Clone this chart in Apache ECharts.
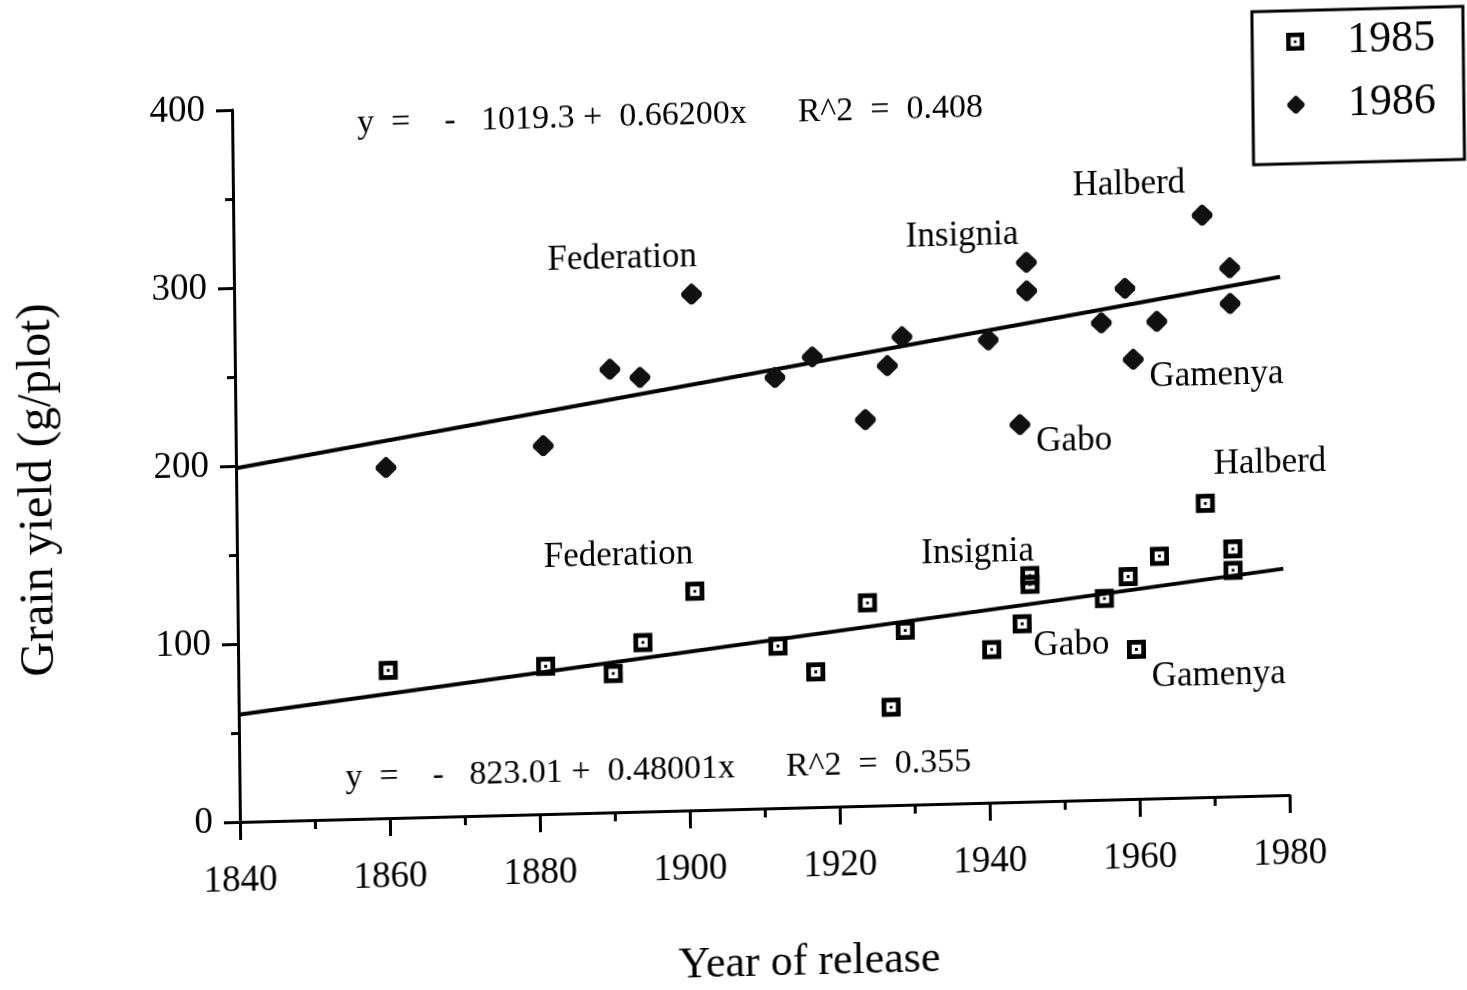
<!DOCTYPE html>
<html>
<head>
<meta charset="utf-8">
<title>Grain yield by year of release</title>
<script src="https://cdn.jsdelivr.net/npm/echarts@6.0.0/dist/echarts.min.js"></script>
<style>
  html, body { margin: 0; padding: 0; background: #fff; width: 1467px; height: 990px; overflow: hidden; }
  /* the printed figure sits slightly askew on the page */
  #chart {
    position: absolute; left: 0; top: 0; width: 1500px; height: 1000px;
    transform-origin: 240px 822px;
    transform: matrix(1, -0.0257, 0.0111, 1, 0, 0);
  }
</style>
</head>
<body>
<div id="chart"></div>
<script>
// Cultivar release years (shared by both seasons)
const releaseYears = [1860, 1881, 1890, 1894, 1901, 1912, 1917, 1924, 1927, 1929, 1940.5,
                      1944.6, 1945.7, 1945.7, 1955.6, 1958.8, 1959.8, 1963, 1969.2, 1972.8, 1972.8];
// Grain yield (g/plot)
const yield1985 = [83, 83, 78, 95, 123, 91, 76, 114, 55, 98, 86,
                   100, 127, 122, 113, 125, 84, 136, 165, 139, 127];
const yield1986 = [197, 207, 249, 244, 290, 242, 253, 217, 247, 263, 260,
                   212, 303, 287, 268, 287, 247, 268, 327, 297, 277];
// Named cultivars
const cultivars = ['', '', '', '', 'Federation', '', '', '', '', '', '',
                   'Gabo', 'Insignia', '', '', '', 'Gamenya', '', 'Halberd', '', ''];
// Linear fits: [intercept, slope, R^2]
const fit1985 = [-823.01, 0.48001, 0.355];
const fit1986 = [-1019.3, 0.66200, 0.408];
const fitSpan = [1840, 1979.5];
// Axis ranges: [min, max, step]
const xTicks = [1840, 1980, 20];
const yTicks = [0, 400, 100];
const seasons = ['1985', '1986'];

const FONT = '"Liberation Serif", "Times New Roman", serif';

// hollow square with a centre dot
const squareIcon = 'path://M0,0 L20,0 L20,20 L0,20 Z M5,5 L5,15 L15,15 L15,5 Z M8.5,8.5 L11.5,8.5 L11.5,11.5 L8.5,11.5 Z';
// solid diamond with softened corners
const diamondIcon = 'path://M10,0 Q11,0 12,1 L19,8 Q20,10 19,12 L12,19 Q10,20 8,19 L1,12 Q0,10 1,8 L8,1 Q9,0 10,0 Z';

// where each cultivar name sits relative to its point
const labelOffsets = {
  '1985': { Federation: [-76, -37], Insignia: [-52, -24], Halberd: [65, -38], Gabo: [49, 23], Gamenya: [82, 28] },
  '1986': { Federation: [-69, -37], Insignia: [-64, -28], Halberd: [-73, -32], Gamenya: [83, 18], Gabo: [54, 18] }
};

function pointData(values, season) {
  return releaseYears.map((yr, i) => {
    const item = { value: [yr, values[i]] };
    const name = cultivars[i];
    if (name) {
      item.label = { show: true, formatter: name, offset: labelOffsets[season][name] };
    }
    return item;
  });
}

function fitLine(fit) {
  return fitSpan.map(x => [x, fit[0] + fit[1] * x]);
}

function equation(fit) {
  const sign = fit[0] < 0 ? '-' : '+';
  return 'y  =    ' + sign + '   ' + String(Math.abs(fit[0])) + ' +  ' +
         fit[1].toFixed(5) + 'x      R^2  =  ' + fit[2].toFixed(3);
}

const pointLabel = {
  show: false, position: 'inside', color: '#000',
  fontFamily: FONT, fontSize: 35
};

const chart = echarts.init(document.getElementById('chart'), null, { renderer: 'canvas' });

chart.setOption({
  animation: false,
  backgroundColor: '#fff',
  grid: { left: 240, top: 110, width: 1050, height: 712, containLabel: false, outerBoundsMode: 'none' },
  legend: {
    data: seasons,
    orient: 'vertical',
    left: 1261, top: 38,
    padding: [3, 28, 31, 34],
    itemGap: 7,
    itemWidth: 18, itemHeight: 18,
    borderColor: '#000', borderWidth: 3,
    backgroundColor: '#fff',
    selectedMode: false,
    textStyle: { fontFamily: FONT, fontSize: 44, color: '#000', lineHeight: 44, padding: [12, 0, 0, 38] }
  },
  xAxis: {
    type: 'value',
    min: xTicks[0], max: xTicks[1], interval: xTicks[2],
    name: 'Year of release',
    nameLocation: 'middle',
    nameGap: 133,
    nameTextStyle: { fontFamily: FONT, fontSize: 44, color: '#000', padding: [0, 0, 0, 86] },
    axisLine: { show: true, lineStyle: { color: '#000', width: 3 } },
    axisTick: { show: true, inside: false, length: 18, lineStyle: { color: '#000', width: 3 } },
    minorTick: { show: true, splitNumber: 2, length: 9, lineStyle: { color: '#000', width: 3 } },
    splitLine: { show: false },
    minorSplitLine: { show: false },
    axisLabel: {
      margin: 41, fontFamily: FONT, fontSize: 37, color: '#000',
      showMinLabel: true, showMaxLabel: true,
      formatter: v => String(v)
    }
  },
  yAxis: {
    type: 'value',
    min: yTicks[0], max: yTicks[1], interval: yTicks[2],
    name: 'Grain yield (g/plot)',
    nameLocation: 'middle',
    nameGap: 174,
    nameTextStyle: { fontFamily: FONT, fontSize: 48, color: '#000', padding: [0, 38, 0, 0] },
    axisLine: { show: true, lineStyle: { color: '#000', width: 3 } },
    axisTick: { show: true, inside: false, length: 16, lineStyle: { color: '#000', width: 3 } },
    minorTick: { show: true, splitNumber: 2, length: 8, lineStyle: { color: '#000', width: 3 } },
    splitLine: { show: false },
    minorSplitLine: { show: false },
    axisLabel: { margin: 27, fontFamily: FONT, fontSize: 37, color: '#000' }
  },
  series: [
    {
      name: 'fit 1986', type: 'line', data: fitLine(fit1986),
      symbol: 'none', silent: true,
      lineStyle: { color: '#000', width: 4 }, z: 1
    },
    {
      name: 'fit 1985', type: 'line', data: fitLine(fit1985),
      symbol: 'none', silent: true,
      lineStyle: { color: '#000', width: 4 }, z: 1
    },
    {
      name: seasons[0], type: 'scatter',
      symbol: squareIcon, symbolSize: 19,
      itemStyle: { color: '#000', opacity: 1 },
      label: pointLabel,
      data: pointData(yield1985, '1985'), z: 3
    },
    {
      name: seasons[1], type: 'scatter',
      symbol: diamondIcon, symbolSize: 21,
      itemStyle: { color: '#111', opacity: 1 },
      label: pointLabel,
      data: pointData(yield1986, '1986'), z: 3
    }
  ],
  graphic: [
    {
      type: 'text', x: 365, y: 127,
      style: { text: equation(fit1986), fontFamily: FONT, fontSize: 34, fill: '#000', align: 'left', verticalAlign: 'middle' }
    },
    {
      type: 'text', x: 346, y: 781,
      style: { text: equation(fit1985), fontFamily: FONT, fontSize: 34, fill: '#000', align: 'left', verticalAlign: 'middle' }
    }
  ]
});
</script>
</body>
</html>
